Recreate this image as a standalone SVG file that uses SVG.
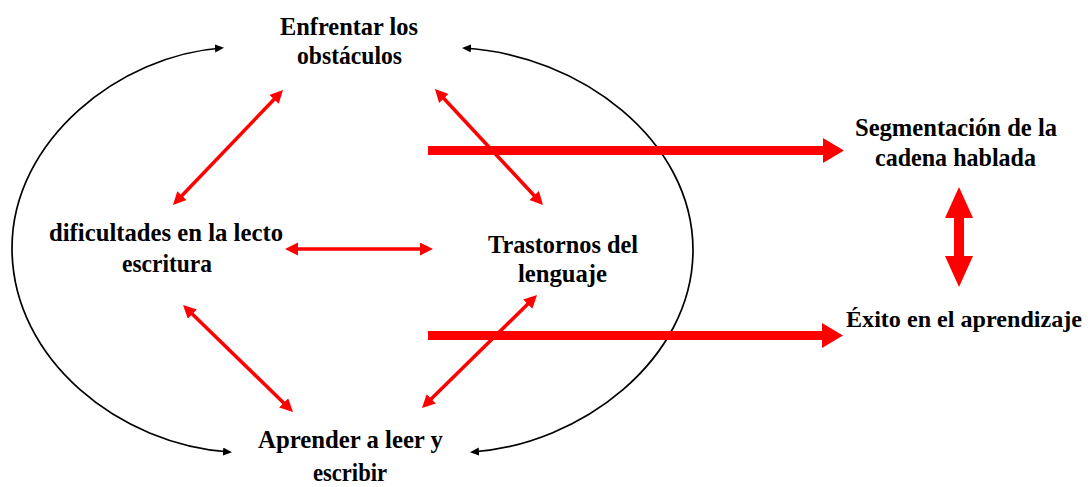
<svg xmlns="http://www.w3.org/2000/svg" width="1091" height="487" viewBox="0 0 1091 487">
  <style>
    .lbl { font-family: "Liberation Serif", "Times New Roman", serif; font-weight: bold; font-size: 26px; fill: #000; }
    .thin { stroke: #ff0000; stroke-width: 3.5; fill: none; marker-start: url(#rh); marker-end: url(#rh); }
    .loop { stroke: #000; stroke-width: 1.7; fill: none; marker-start: url(#bh); marker-end: url(#bh); }
    .thick { fill: #ff0000; stroke: none; }
  </style>
  <defs>
    <marker id="rh" markerUnits="userSpaceOnUse" markerWidth="14" markerHeight="14" refX="3" refY="6.5" orient="auto-start-reverse">
      <path d="M0,0 L13,6.5 L0,13 z" fill="#ff0000"/>
    </marker>
    <marker id="bh" markerUnits="userSpaceOnUse" markerWidth="10" markerHeight="10" refX="7" refY="4" orient="auto-start-reverse">
      <path d="M0,0 L9,4 L0,8 z" fill="#000"/>
    </marker>
  </defs>
  <rect width="1091" height="487" fill="#fff"/>

  <g id="connectors">
    <path class="loop" d="M222,48 C120,55 12,140 12,248 C12,360 120,445 230,452"/>
    <path class="loop" d="M464,48 C580,55 693,140 693,250 C693,360 580,445 472,452"/>
    <line class="thin" x1="276.1" y1="97.2" x2="179.9" y2="197.8"/>
    <line class="thin" x1="190.2" y1="312" x2="285.8" y2="405"/>
    <line class="thin" x1="295" y1="249" x2="423" y2="249"/>
    <line class="thin" x1="441.8" y1="96.3" x2="536.2" y2="197.7"/>
    <line class="thin" x1="529.9" y1="302" x2="429.1" y2="401"/>
    <polygon class="thick" points="428,146 823,146 823,138 844,150.5 823,163 823,155 428,155"/>
    <polygon class="thick" points="428,331 822,331 822,323 843,335.5 822,348 822,340 428,340"/>
    <polygon class="thick" points="959,187 973,218 964,218 964,256 973,256 959,287 945,256 954,256 954,218 945,218"/>
  </g>

  <g id="node-enfrentar">
    <text class="lbl" x="280" y="35" textLength="138" lengthAdjust="spacingAndGlyphs">Enfrentar los</text>
    <text class="lbl" x="297" y="64" textLength="105" lengthAdjust="spacingAndGlyphs">obstáculos</text>
  </g>
  <g id="node-dificultades">
    <text class="lbl" x="49" y="241" textLength="234" lengthAdjust="spacingAndGlyphs">dificultades en la lecto</text>
    <text class="lbl" x="122" y="272" textLength="90" lengthAdjust="spacingAndGlyphs">escritura</text>
  </g>
  <g id="node-trastornos">
    <text class="lbl" x="488" y="253" textLength="150" lengthAdjust="spacingAndGlyphs">Trastornos del</text>
    <text class="lbl" x="518" y="282" textLength="89" lengthAdjust="spacingAndGlyphs">lenguaje</text>
  </g>
  <g id="node-aprender">
    <text class="lbl" x="258" y="448" textLength="185" lengthAdjust="spacingAndGlyphs">Aprender a leer y</text>
    <text class="lbl" x="313" y="481" textLength="74" lengthAdjust="spacingAndGlyphs">escribir</text>
  </g>
  <g id="node-segmentacion">
    <text class="lbl" x="855" y="136" textLength="202" lengthAdjust="spacingAndGlyphs">Segmentación de la</text>
    <text class="lbl" x="875" y="166" textLength="161" lengthAdjust="spacingAndGlyphs">cadena hablada</text>
  </g>
  <g id="node-exito">
    <text class="lbl" x="846" y="327" style="font-size:24px" textLength="236" lengthAdjust="spacingAndGlyphs">Éxito en el aprendizaje</text>
  </g>
</svg>
